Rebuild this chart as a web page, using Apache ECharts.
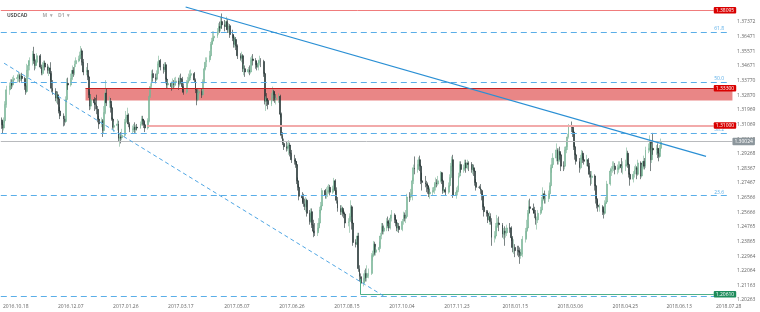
<!DOCTYPE html>
<html><head><meta charset="utf-8">
<script src="https://cdn.jsdelivr.net/npm/echarts@6/dist/echarts.min.js"></script>
<style>html,body{margin:0;padding:0;background:#fff}#c{width:760px;height:312px}</style>
</head><body><div id="c"></div>
<script>
// ---------- axis / labels ----------
const symbolName = 'USDCAD';
const firstDay = '2016-10-16';
const dayCount = 666;
const xTickLabels = ['2016-10-18','2016-12-07','2017-01-26','2017-03-17','2017-05-07','2017-06-26','2017-08-15','2017-10-04','2017-11-23','2018-01-15','2018-03-06','2018-04-25','2018-06-13','2018-07-28'];
const yMin = 1.20263, yStep = 0.0090047, yMax = 1.38731;

// ---------- daily candles [open, close, low, high], one row per weekday ----------
const oct2016 = [[1.3135,1.3105,1.3080,1.3150],[1.3105,1.3085,1.3050,1.3125],[1.3085,1.3130,1.3070,1.3150],[1.3130,1.3230,1.3115,1.3250],[1.3230,1.3320,1.3210,1.3345],
[1.3320,1.3345,1.3290,1.3365],[1.3345,1.3365,1.3320,1.3385],[1.3365,1.3350,1.3325,1.3385],[1.3350,1.3380,1.3335,1.3400],[1.3380,1.3390,1.3355,1.3410],[1.3390,1.3395,1.3365,1.3415]];
const nov2016 = [[1.3395,1.3410,1.3370,1.3430],[1.3410,1.3385,1.3365,1.3420],[1.3385,1.3405,1.3375,1.3420],[1.3405,1.3390,1.3370,1.3425],
[1.3390,1.3345,1.3320,1.3400],[1.3345,1.3310,1.3290,1.3360],[1.3310,1.3440,1.3300,1.3480],[1.3440,1.3470,1.3400,1.3500],[1.3470,1.3500,1.3440,1.3520],
[1.3500,1.3540,1.3470,1.3560],[1.3540,1.3500,1.3480,1.3585],[1.3500,1.3470,1.3440,1.3525],[1.3470,1.3490,1.3450,1.3510],[1.3490,1.3530,1.3470,1.3545],
[1.3530,1.3460,1.3450,1.3540],[1.3460,1.3420,1.3410,1.3475],[1.3420,1.3470,1.3410,1.3490],[1.3470,1.3485,1.3455,1.3500],[1.3485,1.3460,1.3440,1.3500],
[1.3460,1.3440,1.3420,1.3480],[1.3440,1.3455,1.3405,1.3470],[1.3455,1.3420,1.3380,1.3490]];
const dec2016 = [[1.3420,1.3330,1.3305,1.3435],[1.3330,1.3310,1.3290,1.3380],
[1.3310,1.3270,1.3250,1.3330],[1.3270,1.3290,1.3240,1.3305],[1.3290,1.3265,1.3230,1.3310],[1.3265,1.3190,1.3175,1.3275],[1.3190,1.3160,1.3140,1.3215],
[1.3160,1.3140,1.3095,1.3175],[1.3140,1.3125,1.3100,1.3160],[1.3125,1.3260,1.3115,1.3280],[1.3260,1.3360,1.3250,1.3390],[1.3360,1.3350,1.3320,1.3395],
[1.3350,1.3390,1.3340,1.3420],[1.3390,1.3440,1.3380,1.3470],[1.3440,1.3420,1.3400,1.3460],[1.3420,1.3480,1.3410,1.3500],[1.3480,1.3500,1.3460,1.3520],
[1.3500,1.3510,1.3490,1.3530],[1.3510,1.3535,1.3495,1.3555],[1.3535,1.3560,1.3515,1.3590],[1.3560,1.3490,1.3470,1.3575],[1.3490,1.3430,1.3410,1.3510]];
const jan2017 = [[1.3430,1.3440,1.3410,1.3460],[1.3440,1.3400,1.3380,1.3485],[1.3400,1.3290,1.3270,1.3410],[1.3290,1.3220,1.3195,1.3310],[1.3220,1.3260,1.3200,1.3290],
[1.3260,1.3240,1.3190,1.3275],[1.3240,1.3230,1.3200,1.3270],[1.3230,1.3200,1.3170,1.3290],[1.3200,1.3140,1.3120,1.3220],[1.3140,1.3110,1.3080,1.3160],
[1.3110,1.3130,1.3090,1.3150],[1.3130,1.3070,1.3030,1.3140],[1.3070,1.3180,1.3050,1.3220],[1.3180,1.3300,1.3170,1.3380],[1.3300,1.3240,1.3220,1.3330],
[1.3240,1.3250,1.3210,1.3280],[1.3250,1.3210,1.3180,1.3270],[1.3210,1.3140,1.3130,1.3230],[1.3140,1.3090,1.3080,1.3150],[1.3090,1.3100,1.3060,1.3125],
[1.3100,1.3110,1.3070,1.3140],[1.3110,1.3020,1.3000,1.3130]];
const feb2017 = [[1.3020,1.3030,1.2970,1.3055],[1.3030,1.3025,1.2990,1.3060],[1.3025,1.3040,1.3010,1.3080],
[1.3040,1.3120,1.3030,1.3140],[1.3120,1.3150,1.3110,1.3190],[1.3150,1.3165,1.3130,1.3210],[1.3165,1.3110,1.3090,1.3175],[1.3110,1.3075,1.3060,1.3120],
[1.3075,1.3080,1.3050,1.3100],[1.3080,1.3090,1.3060,1.3110],[1.3090,1.3075,1.3055,1.3120],[1.3075,1.3090,1.3050,1.3105],[1.3090,1.3085,1.3070,1.3110],
[1.3085,1.3110,1.3080,1.3125],[1.3110,1.3140,1.3100,1.3160],[1.3140,1.3130,1.3100,1.3160],[1.3130,1.3105,1.3085,1.3140],[1.3105,1.3085,1.3060,1.3120],
[1.3085,1.3130,1.3075,1.3145],[1.3130,1.3280,1.3120,1.3295]];
const mar2017 = [[1.3280,1.3340,1.3270,1.3360],[1.3340,1.3420,1.3330,1.3440],[1.3420,1.3395,1.3370,1.3445],
[1.3395,1.3385,1.3360,1.3420],[1.3385,1.3420,1.3375,1.3440],[1.3420,1.3480,1.3410,1.3495],[1.3480,1.3500,1.3470,1.3530],[1.3500,1.3460,1.3440,1.3510],
[1.3460,1.3445,1.3420,1.3480],[1.3445,1.3475,1.3430,1.3490],[1.3475,1.3385,1.3360,1.3490],[1.3385,1.3350,1.3330,1.3395],[1.3350,1.3360,1.3330,1.3380],
[1.3360,1.3340,1.3315,1.3370],[1.3340,1.3360,1.3320,1.3390],[1.3360,1.3350,1.3325,1.3380],[1.3350,1.3370,1.3335,1.3395],[1.3370,1.3375,1.3345,1.3400],
[1.3375,1.3355,1.3320,1.3395],[1.3355,1.3390,1.3340,1.3410],[1.3390,1.3385,1.3360,1.3420],[1.3385,1.3340,1.3320,1.3400],[1.3340,1.3305,1.3290,1.3360]];
const apr2017 = [[1.3305,1.3365,1.3295,1.3380],[1.3365,1.3375,1.3340,1.3400],[1.3375,1.3395,1.3360,1.3420],[1.3395,1.3410,1.3380,1.3440],[1.3410,1.3420,1.3380,1.3445],
[1.3420,1.3380,1.3365,1.3430],[1.3380,1.3320,1.3300,1.3390],[1.3320,1.3260,1.3225,1.3330],[1.3260,1.3300,1.3250,1.3320],[1.3300,1.3310,1.3290,1.3325],
[1.3310,1.3290,1.3270,1.3330],[1.3290,1.3370,1.3280,1.3385],[1.3370,1.3450,1.3360,1.3465],[1.3450,1.3490,1.3440,1.3520],[1.3490,1.3505,1.3460,1.3520],
[1.3505,1.3530,1.3490,1.3560],[1.3530,1.3600,1.3520,1.3615],[1.3600,1.3620,1.3570,1.3640],[1.3620,1.3640,1.3600,1.3680],[1.3640,1.3650,1.3620,1.3680]];
const may2017 = [[1.3650,1.3680,1.3640,1.3700],[1.3680,1.3710,1.3660,1.3730],[1.3710,1.3700,1.3670,1.3740],[1.3700,1.3740,1.3680,1.3770],[1.3740,1.3720,1.3695,1.3790],
[1.3720,1.3710,1.3680,1.3750],[1.3710,1.3740,1.3690,1.3770],[1.3740,1.3690,1.3670,1.3755],[1.3690,1.3715,1.3670,1.3730],[1.3715,1.3660,1.3640,1.3725],
[1.3660,1.3640,1.3620,1.3690],[1.3640,1.3600,1.3580,1.3660],[1.3600,1.3630,1.3580,1.3650],[1.3630,1.3590,1.3565,1.3645],[1.3590,1.3530,1.3510,1.3600],
[1.3530,1.3515,1.3500,1.3545],[1.3515,1.3530,1.3490,1.3555],[1.3530,1.3450,1.3430,1.3540],[1.3450,1.3450,1.3410,1.3480],[1.3450,1.3430,1.3400,1.3470],
[1.3430,1.3445,1.3420,1.3460],[1.3445,1.3430,1.3410,1.3470],[1.3430,1.3500,1.3420,1.3520]];
const jun2017 = [[1.3500,1.3510,1.3470,1.3530],[1.3510,1.3500,1.3470,1.3540],
[1.3500,1.3475,1.3450,1.3515],[1.3475,1.3460,1.3440,1.3495],[1.3460,1.3485,1.3440,1.3505],[1.3485,1.3500,1.3470,1.3530],[1.3500,1.3495,1.3460,1.3515],
[1.3495,1.3420,1.3400,1.3505],[1.3420,1.3250,1.3230,1.3430],[1.3250,1.3265,1.3190,1.3280],[1.3265,1.3255,1.3220,1.3300],[1.3255,1.3230,1.3200,1.3270],
[1.3230,1.3270,1.3220,1.3300],[1.3270,1.3310,1.3250,1.3340],[1.3310,1.3290,1.3250,1.3320],[1.3290,1.3260,1.3240,1.3310],[1.3260,1.3270,1.3230,1.3290],
[1.3270,1.3280,1.3240,1.3300],[1.3280,1.3170,1.3150,1.3290],[1.3170,1.3040,1.3020,1.3180],[1.3040,1.2990,1.2980,1.3060],[1.2990,1.2970,1.2950,1.3020]];
const jul2017 = [[1.2970,1.2960,1.2940,1.3000],[1.2960,1.2975,1.2945,1.2995],[1.2975,1.2980,1.2920,1.3010],[1.2980,1.2930,1.2910,1.2995],[1.2930,1.2890,1.2870,1.2950],
[1.2890,1.2880,1.2860,1.2920],[1.2880,1.2860,1.2840,1.2900],[1.2860,1.2760,1.2740,1.2880],[1.2760,1.2720,1.2700,1.2780],[1.2720,1.2665,1.2640,1.2740],
[1.2665,1.2655,1.2630,1.2690],[1.2655,1.2620,1.2600,1.2680],[1.2620,1.2600,1.2580,1.2650],[1.2600,1.2640,1.2570,1.2660],[1.2640,1.2560,1.2540,1.2650],
[1.2560,1.2510,1.2490,1.2580],[1.2510,1.2570,1.2500,1.2590],[1.2570,1.2490,1.2470,1.2590],[1.2490,1.2450,1.2413,1.2520],[1.2450,1.2440,1.2420,1.2500],
[1.2440,1.2470,1.2420,1.2500]];
const aug2017 = [[1.2470,1.2500,1.2450,1.2530],[1.2500,1.2580,1.2480,1.2600],[1.2580,1.2605,1.2560,1.2630],[1.2605,1.2700,1.2580,1.2715],
[1.2700,1.2670,1.2650,1.2710],[1.2670,1.2690,1.2650,1.2720],[1.2690,1.2700,1.2660,1.2730],[1.2700,1.2720,1.2680,1.2740],[1.2720,1.2690,1.2670,1.2735],
[1.2690,1.2710,1.2680,1.2730],[1.2710,1.2760,1.2700,1.2778],[1.2760,1.2700,1.2680,1.2770],[1.2700,1.2640,1.2620,1.2720],[1.2640,1.2590,1.2570,1.2660],
[1.2590,1.2570,1.2550,1.2610],[1.2570,1.2590,1.2550,1.2610],[1.2590,1.2560,1.2540,1.2600],[1.2560,1.2555,1.2530,1.2580],[1.2555,1.2500,1.2470,1.2570],
[1.2500,1.2510,1.2480,1.2530],[1.2510,1.2540,1.2440,1.2560],[1.2540,1.2600,1.2520,1.2640],[1.2600,1.2500,1.2460,1.2610]];
const sep2017 = [[1.2500,1.2380,1.2360,1.2520],
[1.2380,1.2370,1.2350,1.2400],[1.2370,1.2420,1.2350,1.2440],[1.2420,1.2220,1.2200,1.2440],[1.2220,1.2170,1.2140,1.2240],[1.2170,1.2130,1.2061,1.2190],
[1.2130,1.2160,1.2110,1.2190],[1.2160,1.2190,1.2130,1.2210],[1.2190,1.2165,1.2140,1.2220],[1.2165,1.2175,1.2140,1.2240],[1.2175,1.2190,1.2160,1.2220],
[1.2190,1.2300,1.2180,1.2315],[1.2300,1.2310,1.2270,1.2330],[1.2310,1.2370,1.2290,1.2390],[1.2370,1.2320,1.2300,1.2385],[1.2320,1.2335,1.2300,1.2355],
[1.2335,1.2350,1.2320,1.2385],[1.2350,1.2420,1.2340,1.2440],[1.2420,1.2480,1.2400,1.2500],[1.2480,1.2450,1.2430,1.2500],[1.2450,1.2470,1.2430,1.2490]];
const oct2017 = [[1.2470,1.2510,1.2450,1.2530],[1.2510,1.2500,1.2480,1.2540],[1.2500,1.2470,1.2450,1.2520],[1.2470,1.2530,1.2460,1.2550],[1.2530,1.2550,1.2510,1.2580],
[1.2550,1.2520,1.2500,1.2560],[1.2520,1.2500,1.2480,1.2540],[1.2500,1.2470,1.2450,1.2520],[1.2470,1.2480,1.2445,1.2505],[1.2480,1.2460,1.2440,1.2500],
[1.2460,1.2510,1.2450,1.2525],[1.2510,1.2550,1.2490,1.2570],[1.2550,1.2530,1.2510,1.2565],[1.2530,1.2540,1.2500,1.2580],[1.2540,1.2660,1.2530,1.2680],
[1.2660,1.2660,1.2630,1.2690],[1.2660,1.2680,1.2640,1.2710],[1.2680,1.2760,1.2640,1.2780],[1.2760,1.2840,1.2740,1.2860],[1.2840,1.2830,1.2800,1.2910],
[1.2830,1.2860,1.2810,1.2890],[1.2860,1.2890,1.2830,1.2905]];
const nov2017 = [[1.2890,1.2850,1.2820,1.2915],[1.2850,1.2760,1.2740,1.2860],[1.2760,1.2750,1.2700,1.2810],
[1.2750,1.2740,1.2720,1.2790],[1.2740,1.2730,1.2690,1.2760],[1.2730,1.2710,1.2680,1.2750],[1.2710,1.2680,1.2660,1.2730],[1.2680,1.2690,1.2650,1.2720],
[1.2690,1.2700,1.2670,1.2720],[1.2700,1.2720,1.2680,1.2740],[1.2720,1.2750,1.2700,1.2780],[1.2750,1.2740,1.2720,1.2770],[1.2740,1.2760,1.2730,1.2790],
[1.2760,1.2810,1.2750,1.2820],[1.2810,1.2760,1.2740,1.2815],[1.2760,1.2700,1.2680,1.2770],[1.2700,1.2705,1.2685,1.2720],[1.2705,1.2690,1.2670,1.2720],
[1.2690,1.2730,1.2680,1.2750],[1.2730,1.2780,1.2720,1.2800],[1.2780,1.2850,1.2760,1.2870],[1.2850,1.2890,1.2820,1.2910]];
const dec2017 = [[1.2890,1.2670,1.2655,1.2920],
[1.2670,1.2690,1.2650,1.2720],[1.2690,1.2700,1.2670,1.2730],[1.2700,1.2790,1.2690,1.2810],[1.2790,1.2860,1.2780,1.2880],[1.2860,1.2830,1.2810,1.2880],
[1.2830,1.2840,1.2810,1.2860],[1.2840,1.2870,1.2820,1.2890],[1.2870,1.2840,1.2810,1.2890],[1.2840,1.2870,1.2830,1.2890],[1.2870,1.2860,1.2820,1.2880],
[1.2860,1.2830,1.2810,1.2875],[1.2830,1.2840,1.2800,1.2860],[1.2840,1.2820,1.2790,1.2860],[1.2820,1.2750,1.2730,1.2830],[1.2750,1.2720,1.2700,1.2770],
[1.2720,1.2720,1.2710,1.2730],[1.2720,1.2700,1.2680,1.2740],[1.2700,1.2670,1.2640,1.2710],[1.2670,1.2600,1.2580,1.2680],[1.2600,1.2570,1.2540,1.2620]];
const jan2018 = [[1.2570,1.2560,1.2540,1.2580],[1.2560,1.2520,1.2500,1.2580],[1.2520,1.2540,1.2490,1.2570],[1.2540,1.2510,1.2490,1.2560],[1.2510,1.2410,1.2360,1.2530],
[1.2410,1.2420,1.2380,1.2450],[1.2420,1.2480,1.2400,1.2500],[1.2480,1.2500,1.2450,1.2550],[1.2500,1.2500,1.2470,1.2530],[1.2500,1.2490,1.2450,1.2540],
[1.2490,1.2430,1.2410,1.2500],[1.2430,1.2450,1.2400,1.2470],[1.2450,1.2440,1.2360,1.2480],[1.2440,1.2440,1.2410,1.2470],[1.2440,1.2470,1.2420,1.2490],
[1.2470,1.2470,1.2440,1.2500],[1.2470,1.2410,1.2390,1.2480],[1.2410,1.2350,1.2320,1.2420],[1.2350,1.2350,1.2310,1.2400],[1.2350,1.2330,1.2290,1.2370],
[1.2330,1.2330,1.2300,1.2360],[1.2330,1.2320,1.2290,1.2360],[1.2320,1.2300,1.2249,1.2350]];
const feb2018 = [[1.2300,1.2310,1.2280,1.2340],[1.2310,1.2400,1.2290,1.2420],
[1.2400,1.2450,1.2380,1.2470],[1.2450,1.2470,1.2410,1.2520],[1.2470,1.2560,1.2460,1.2580],[1.2560,1.2600,1.2540,1.2640],[1.2600,1.2590,1.2560,1.2650],
[1.2590,1.2580,1.2560,1.2620],[1.2580,1.2560,1.2530,1.2600],[1.2560,1.2520,1.2490,1.2580],[1.2520,1.2520,1.2460,1.2540],[1.2520,1.2560,1.2500,1.2580],
[1.2560,1.2580,1.2550,1.2600],[1.2580,1.2640,1.2570,1.2660],[1.2640,1.2680,1.2620,1.2720],[1.2680,1.2650,1.2620,1.2700],[1.2650,1.2650,1.2620,1.2680],
[1.2650,1.2680,1.2630,1.2700],[1.2680,1.2730,1.2660,1.2750],[1.2730,1.2840,1.2720,1.2860]];
const mar2018 = [[1.2840,1.2860,1.2810,1.2900],[1.2860,1.2900,1.2840,1.2930],
[1.2900,1.2950,1.2880,1.2990],[1.2950,1.2880,1.2860,1.2960],[1.2880,1.2940,1.2860,1.2960],[1.2940,1.2920,1.2890,1.2970],[1.2920,1.2850,1.2820,1.2930],
[1.2850,1.2850,1.2820,1.2880],[1.2850,1.2950,1.2830,1.2970],[1.2950,1.2970,1.2930,1.3000],[1.2970,1.3030,1.2950,1.3050],[1.3030,1.3100,1.3020,1.3110],
[1.3100,1.3090,1.3060,1.3125],[1.3090,1.3060,1.3030,1.3100],[1.3060,1.2970,1.2950,1.3070],[1.2970,1.2920,1.2890,1.2990],[1.2920,1.2880,1.2860,1.2930],
[1.2880,1.2840,1.2810,1.2900],[1.2840,1.2900,1.2830,1.2920],[1.2900,1.2930,1.2870,1.2950],[1.2930,1.2890,1.2870,1.2945],[1.2890,1.2880,1.2860,1.2910]];
const apr2018 = [[1.2880,1.2890,1.2850,1.2920],[1.2890,1.2850,1.2830,1.2900],[1.2850,1.2800,1.2780,1.2870],[1.2800,1.2780,1.2730,1.2820],[1.2780,1.2790,1.2740,1.2820],
[1.2790,1.2730,1.2700,1.2800],[1.2730,1.2650,1.2620,1.2740],[1.2650,1.2610,1.2590,1.2670],[1.2610,1.2600,1.2570,1.2640],[1.2600,1.2600,1.2570,1.2620],
[1.2600,1.2570,1.2550,1.2610],[1.2570,1.2560,1.2528,1.2590],[1.2560,1.2620,1.2550,1.2640],[1.2620,1.2630,1.2600,1.2660],[1.2630,1.2740,1.2620,1.2760],
[1.2740,1.2820,1.2730,1.2840],[1.2820,1.2830,1.2790,1.2850],[1.2830,1.2850,1.2810,1.2880],[1.2850,1.2850,1.2820,1.2880],[1.2850,1.2830,1.2800,1.2870],
[1.2830,1.2840,1.2800,1.2860]];
const may2018 = [[1.2840,1.2850,1.2810,1.2880],[1.2850,1.2860,1.2830,1.2880],[1.2860,1.2840,1.2810,1.2900],[1.2840,1.2850,1.2800,1.2880],
[1.2850,1.2860,1.2820,1.2890],[1.2860,1.2930,1.2850,1.2965],[1.2930,1.2860,1.2840,1.2945],[1.2860,1.2800,1.2780,1.2870],[1.2800,1.2770,1.2730,1.2810],
[1.2770,1.2800,1.2750,1.2820],[1.2800,1.2830,1.2780,1.2850],[1.2830,1.2840,1.2800,1.2860],[1.2840,1.2800,1.2770,1.2850],[1.2800,1.2870,1.2790,1.2890],
[1.2870,1.2790,1.2770,1.2880],[1.2790,1.2840,1.2780,1.2860],[1.2840,1.2880,1.2830,1.2915],[1.2880,1.2850,1.2830,1.2900],[1.2850,1.2950,1.2840,1.2970],
[1.2950,1.2960,1.2930,1.2990],[1.2960,1.3000,1.2940,1.3040],[1.3000,1.2890,1.2820,1.3010],[1.2890,1.2960,1.2870,1.2990]];
const jun2018 = [[1.2960,1.2950,1.2920,1.3055],
[1.2950,1.2960,1.2920,1.2980],[1.2960,1.2930,1.2900,1.2990],[1.2930,1.2910,1.2880,1.2960],[1.2910,1.2960,1.2900,1.2980],[1.2960,1.3002,1.2940,1.3020]];

const monthBlocks = [['2016-10-17',oct2016],['2016-11-01',nov2016],['2016-12-01',dec2016],['2017-01-02',jan2017],['2017-02-01',feb2017],['2017-03-01',mar2017],
['2017-04-03',apr2017],['2017-05-01',may2017],['2017-06-01',jun2017],['2017-07-03',jul2017],['2017-08-01',aug2017],['2017-09-01',sep2017],['2017-10-02',oct2017],
['2017-11-01',nov2017],['2017-12-01',dec2017],['2018-01-01',jan2018],['2018-02-01',feb2018],['2018-03-01',mar2018],['2018-04-02',apr2018],['2018-05-01',may2018],['2018-06-01',jun2018]];

// ---------- drawn levels ----------
const fibValues = [1.2047, 1.2669, 1.3053, 1.3366, 1.3675];
const fibNames  = ['', '23.6', '38.2', '50.0', '61.8'];
const topLevel = 1.38095;
const supportLevel = 1.31000;
const zoneTop = 1.33300, zoneBottom = 1.3255;
const lastPrice = 1.30024;
const swingLow = 1.20610, swingLowStart = 1.2155;
const trendSolid = [['2017-04-02', 1.3830], ['2018-07-19', 1.2910]];
const trendDashed = [['2016-10-19', 1.3484], ['2017-09-29', 1.2051]];

// ---------- build ----------
const DAY = 864e5;
function fmt(t){const d=new Date(t);return d.getUTCFullYear()+'-'+String(d.getUTCMonth()+1).padStart(2,'0')+'-'+String(d.getUTCDate()).padStart(2,'0');}
function parse(s){const p=s.split('-').map(Number);return Date.UTC(p[0],p[1]-1,p[2]);}
const categories=[];
for(let i=0;i<dayCount;i++) categories.push(fmt(parse(firstDay)+i*DAY));
const candleMap={};
monthBlocks.forEach(([start,rows])=>{
  let t=parse(start);
  rows.forEach(r=>{
    while([0,6].includes(new Date(t).getUTCDay())) t+=DAY;
    candleMap[fmt(t)]=r; t+=DAY;
  });
});
const candleData=categories.map(d=>candleMap[d]||['-','-','-','-']);
const lastCat=categories[categories.length-1];
const tagEnd='2018-07-26', fibEnd='2018-08-08';
const tickSet=new Set(xTickLabels);
const FONT='Open Sans';
function tag(bg){return {show:true,position:'end',distance:0,backgroundColor:bg,color:'#fff',fontSize:5,fontFamily:FONT,padding:[1,2,0.5,2],borderRadius:1};}

const markLines=[];
fibValues.forEach((v,i)=>{
  markLines.push([{coord:[firstDay,v],lineStyle:{color:'#5aaee8',type:[6,4],width:1},
    label:{show:!!fibNames[i],position:'insideEndTop',formatter:fibNames[i],color:'#5aaee8',fontSize:5,fontFamily:FONT,distance:[4,1]}},
    {coord:[fibEnd,v]}]);
});
markLines.push([{coord:[firstDay,topLevel],lineStyle:{color:'#f07c7c',width:1,type:'solid'},label:Object.assign(tag('#d90000'),{formatter:topLevel.toFixed(5)})},{coord:[tagEnd,topLevel]}]);
markLines.push([{coord:['2017-01-01',zoneTop],lineStyle:{color:'#c62020',width:1,type:'solid'},label:Object.assign(tag('#d90000'),{formatter:zoneTop.toFixed(5)})},{coord:[tagEnd,zoneTop]}]);
markLines.push([{coord:['2017-02-26',supportLevel],lineStyle:{color:'#f2aaaa',width:2,type:'solid'},label:Object.assign(tag('#d90000'),{formatter:supportLevel.toFixed(5)})},{coord:[tagEnd,supportLevel]}]);
markLines.push([{coord:[firstDay,lastPrice],lineStyle:{color:'#b8babd',width:1,type:'solid'},label:Object.assign(tag('#8c969c'),{formatter:lastPrice.toFixed(5),padding:[1.5,2,1,2]})},{coord:[lastCat,lastPrice]}]);
markLines.push([{coord:['2017-09-08',swingLow],lineStyle:{color:'#4fb08a',width:1,type:'solid'},label:Object.assign(tag('#1e8c5c'),{formatter:swingLow.toFixed(5)})},{coord:[tagEnd,swingLow]}]);
markLines.push([{coord:['2017-09-08',swingLowStart],lineStyle:{color:'#4fb08a',width:1,type:'solid'},label:{show:false}},{coord:['2017-09-08',swingLow]}]);
markLines.push([{coord:trendSolid[0],lineStyle:{color:'#2a8fd4',width:1.2,type:'solid'},label:{show:false}},{coord:trendSolid[1]}]);
markLines.push([{coord:trendDashed[0],lineStyle:{color:'#4fa6e4',width:1,type:[4,3]},label:{show:false}},{coord:trendDashed[1]}]);

const chart=echarts.init(document.getElementById('c'),null,{renderer:'canvas'});
chart.setOption({
  animation:false,
  backgroundColor:'#fff',
  title:{text:'{a|'+symbolName+'}   {b|M  ▾    D1  ▾}',left:2,top:2,textStyle:{rich:{a:{fontSize:5,fontWeight:'bold',color:'#555',fontFamily:FONT},b:{fontSize:5,color:'#aaa',fontFamily:FONT}}}},
  grid:{left:0,right:27,top:0,bottom:12,containLabel:false},
  xAxis:{type:'category',data:categories,boundaryGap:true,
    axisLine:{show:false},axisTick:{show:false},splitLine:{show:false},
    axisLabel:{interval:(i,v)=>tickSet.has(v),formatter:v=>v.replace(/-/g,'.'),fontSize:5,color:'#666',fontFamily:FONT,align:'left',margin:4,hideOverlap:false}},
  yAxis:{type:'value',position:'right',min:yMin,max:yMax,interval:yStep,scale:true,
    axisLine:{show:false},axisTick:{show:false},splitLine:{show:false},
    axisLabel:{formatter:v=>v>1.378?'':v.toFixed(5),fontSize:5,color:'#666',fontFamily:FONT,margin:4,showMaxLabel:false}},
  series:[{
    type:'candlestick',large:false,barWidth:1.4,data:candleData,
    itemStyle:{color:'#78b396',color0:'#223030',borderColor:'#78b396',borderColor0:'#223030',borderWidth:0.6},
    markArea:{silent:true,itemStyle:{color:'rgba(220,60,60,0.62)'},data:[[{coord:['2017-01-01',zoneTop]},{coord:[lastCat,zoneBottom]}]]},
    markLine:{silent:true,symbol:['none','none'],animation:false,data:markLines}
  }]
});
</script></body></html>
